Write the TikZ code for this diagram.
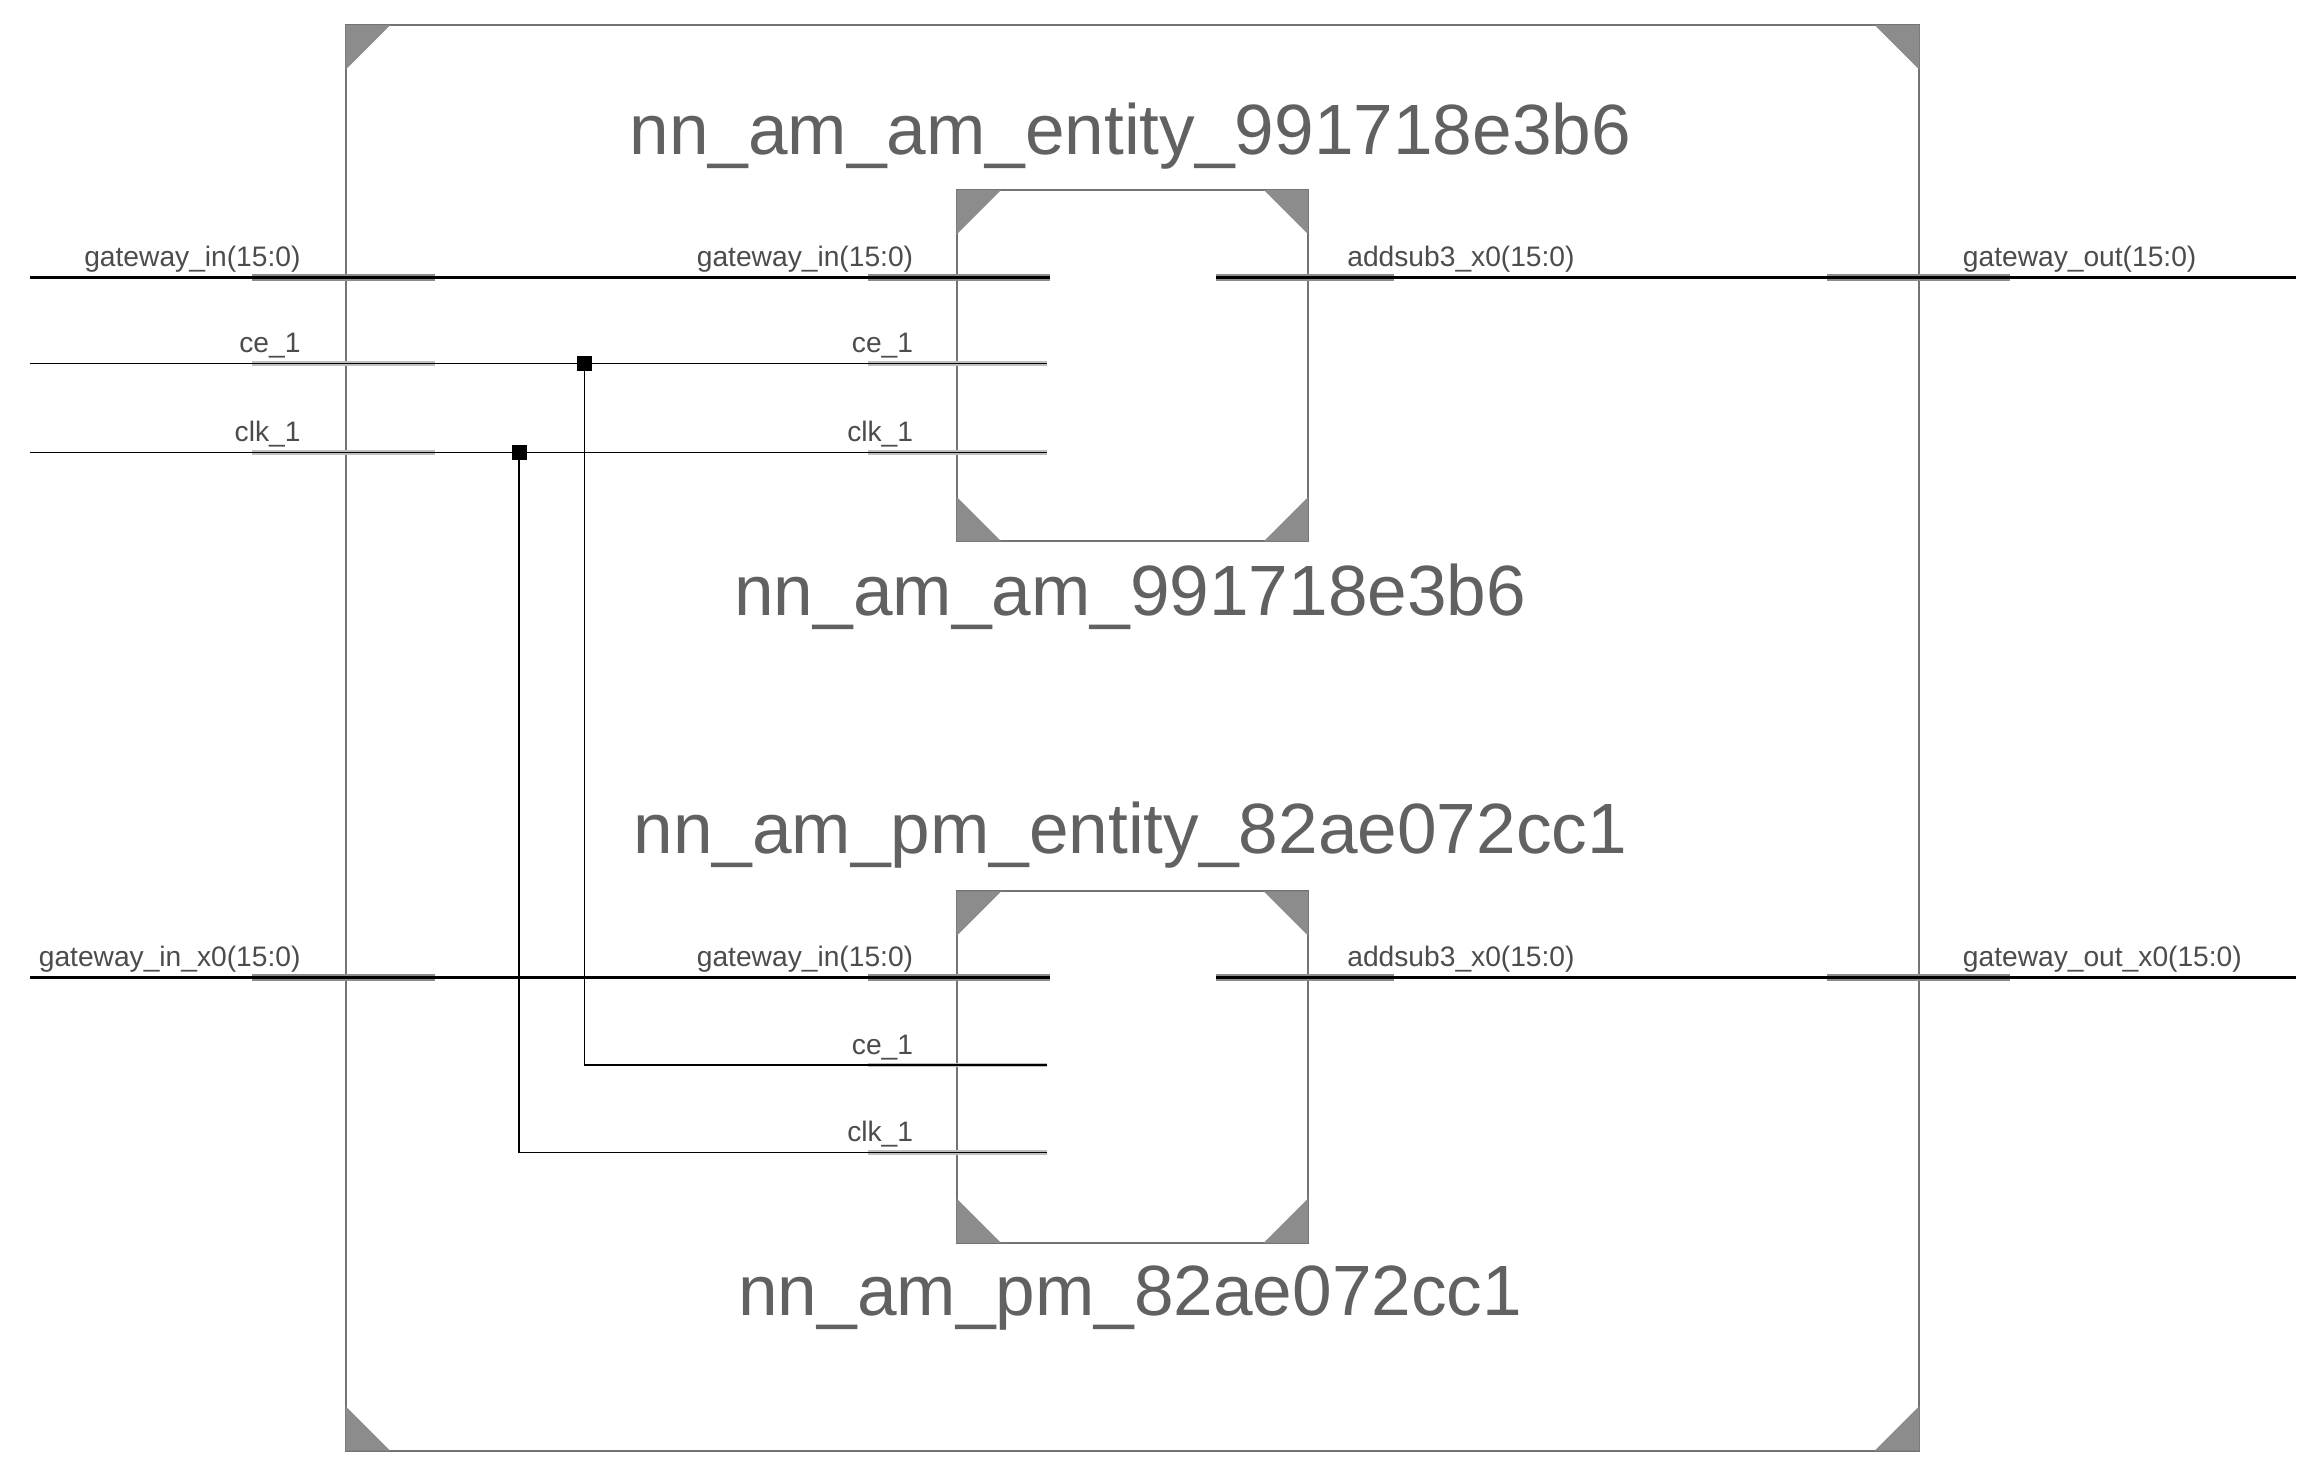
\documentclass[tikz,border=0pt]{standalone}
\usepackage{fontspec}
\setmainfont{Liberation Sans}
\begin{document}
\begin{tikzpicture}[x=0.5pt,y=-0.5pt,
  frame/.style={draw=black!55,line width=0.7pt},
  tri/.style={fill=black!45},
  stub/.style={draw=black!45,line width=2.6pt},
  bus/.style={draw=black,line width=1.1pt},
  wire/.style={draw=black,line width=0.55pt},
  lbl/.style={font=\fontsize{9.5}{10}\selectfont,text=black!70,inner sep=0pt},
  ttl/.style={font=\fontsize{24}{26}\selectfont,text=black!62,inner sep=0pt},
  dot/.style={fill=black,minimum size=5pt,inner sep=0pt}]
\useasboundingbox (0,0) rectangle (1552,986);
\fill[white] (0,0) rectangle (1552,986);
% outer box
\draw[frame] (233,17) rectangle (1294,978);
\foreach \a/\b/\c in {233/17/1, 1294/17/-1}{\fill[tri] (\a,\b) -- ++(\c*30,0) -- ++(-\c*30,30) -- cycle;}
\fill[tri] (233,978) -- ++(30,0) -- ++(-30,-30) -- cycle;
\fill[tri] (1294,978) -- ++(-30,0) -- ++(30,-30) -- cycle;
% inner boxes
\foreach \y in {128,601}{
  \draw[frame] (645,\y) rectangle (882,\y+237);
  \fill[tri] (645,\y) -- ++(30,0) -- ++(-30,30) -- cycle;
  \fill[tri] (882,\y) -- ++(-30,0) -- ++(30,30) -- cycle;
  \fill[tri] (645,\y+237) -- ++(30,0) -- ++(-30,-30) -- cycle;
  \fill[tri] (882,\y+237) -- ++(-30,0) -- ++(30,-30) -- cycle;
}
\node[ttl] (t1) at (762,92) {nn\_am\_am\_entity\_991718e3b6};
\node[ttl] (t2) at (762,402) {nn\_am\_am\_991718e3b6};
\node[ttl] (t3) at (762,563) {nn\_am\_pm\_entity\_82ae072cc1};
\node[ttl] (t4) at (762,875) {nn\_am\_pm\_82ae072cc1};
% rows
\foreach \y/\ol/\orl/\s in {187/gateway\_in(15:0)/gateway\_out(15:0)/a, 659/gateway\_in\_x0(15:0)/gateway\_out\_x0(15:0)/b}{
  \coordinate (gi\s) at (20,\y); \coordinate (ge\s) at (708,\y);
  \coordinate (go\s) at (820,\y); \coordinate (gx\s) at (1548,\y);
  \draw[stub] (170,\y) -- (293,\y);
  \draw[stub] (585,\y) -- (708,\y);
  \draw[stub] (820,\y) -- (940,\y);
  \draw[stub] (1232,\y) -- (1355,\y);
  \draw[bus] (gi\s) -- (ge\s);
  \draw[bus] (go\s) -- (gx\s);
  \node[lbl,anchor=south east] at (203,\y-3) {\ol};
  \node[lbl,anchor=south east] at (616,\y-3) {gateway\_in(15:0)};
  \node[lbl,anchor=south west] at (908,\y-3) {addsub3\_x0(15:0)};
  \node[lbl,anchor=south west] at (1323,\y-3) {\orl};
}
% control wires
\coordinate (ceL) at (20,245); \coordinate (ceA) at (706,245);
\coordinate (clL) at (20,305); \coordinate (clA) at (706,305);
\coordinate (ceB) at (706,718); \coordinate (clB) at (706,777);
\draw[stub,draw=black!25,line width=1.6pt] (170,245)--(293,245) (585,245)--(706,245) (170,305)--(293,305) (585,305)--(706,305) (585,718)--(706,718) (585,777)--(706,777);
\draw[wire] (ceL) -- (ceA);
\draw[wire] (clL) -- (clA);
\node[dot] (j1) at (394,245) {};
\node[dot] (j2) at (350,305) {};
\draw[wire] (j1.center) |- (ceB);
\draw[wire] (j2.center) |- (clB);
\foreach \y/\t in {245/ce\_1,305/clk\_1}{
  \node[lbl,anchor=south east] at (203,\y-3) {\t};
  \node[lbl,anchor=south east] at (616,\y-3) {\t};}
\node[lbl,anchor=south east] at (616,715) {ce\_1};
\node[lbl,anchor=south east] at (616,774) {clk\_1};
\end{tikzpicture}
\end{document}
